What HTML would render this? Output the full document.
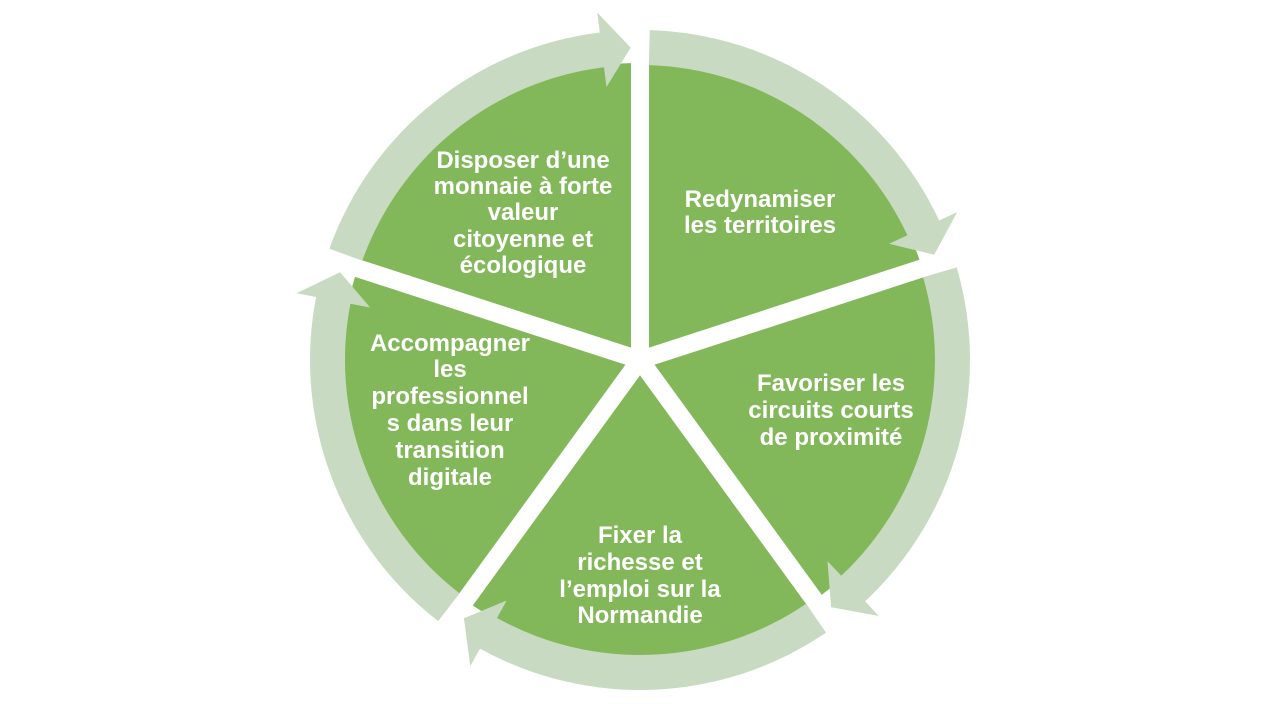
<!DOCTYPE html>
<html><head><meta charset="utf-8">
<style>
html,body{margin:0;padding:0;background:#fff;}
svg{display:block;}
text{font-family:"Liberation Sans",Arial,sans-serif;font-weight:bold;font-size:24px;fill:#fff;text-anchor:middle;}
</style></head>
<body>
<svg id="s" width="1280" height="721" viewBox="0 0 1280 721" xmlns="http://www.w3.org/2000/svg">
<circle cx="640" cy="360" r="297" fill="#82b85a"/>
<g id="gaps" stroke="#fff" stroke-width="18"></g>
<g id="arrows2" fill="#c8dbc2"></g>
<text x="523" y="168">Disposer d’une</text>
<text x="523" y="194">monnaie à forte</text>
<text x="523" y="220">valeur</text>
<text x="523" y="247">citoyenne et</text>
<text x="523" y="273">écologique</text>
<text x="760" y="207">Redynamiser</text>
<text x="760" y="233">les territoires</text>
<text x="831" y="391">Favoriser les</text>
<text x="831" y="418">circuits courts</text>
<text x="831" y="445">de proximité</text>
<text x="640" y="543">Fixer la</text>
<text x="640" y="570">richesse et</text>
<text x="640" y="597">l’emploi sur la</text>
<text x="640" y="623">Normandie</text>
<text x="450" y="351">Accompagner</text>
<text x="450" y="377">les</text>
<text x="450" y="404">professionnel</text>
<text x="450" y="431">s dans leur</text>
<text x="450" y="458">transition</text>
<text x="450" y="485">digitale</text>
</svg>
<script>
(function(){
var cx=640,cy=360,R1=295,R2=330,W=20;
function P(r,a){var t=a*Math.PI/180;return (cx+r*Math.sin(t)).toFixed(1)+","+(cy-r*Math.cos(t)).toFixed(1);}
var ns="http://www.w3.org/2000/svg";
var g=document.getElementById("gaps");
for(var k=0;k<5;k++){
  var b=72*k;
  var l=document.createElementNS(ns,"line");
  l.setAttribute("x1",cx);l.setAttribute("y1",cy);
  var t=b*Math.PI/180;
  l.setAttribute("x2",cx+380*Math.sin(t));l.setAttribute("y2",cy-380*Math.cos(t));
  g.appendChild(l);
}
var a=document.getElementById("arrows2");
for(var k=0;k<5;k++){
  var b=72*k, a0=b+1.7, a1=b+72-7, tip=b+72-1.7, rm=(R1+R2)/2;
  var d="M"+P(R2,a0)+" A"+R2+","+R2+" 0 0 1 "+P(R2,a1)+" L"+P(R2+W,a1)+" L"+P(rm,tip)+" L"+P(R1-W,a1)+" L"+P(R1,a1)+" A"+R1+","+R1+" 0 0 0 "+P(R1,a0)+" Z";
  var p=document.createElementNS(ns,"path");p.setAttribute("d",d);a.appendChild(p);
}
})();
</script>
</body></html>
